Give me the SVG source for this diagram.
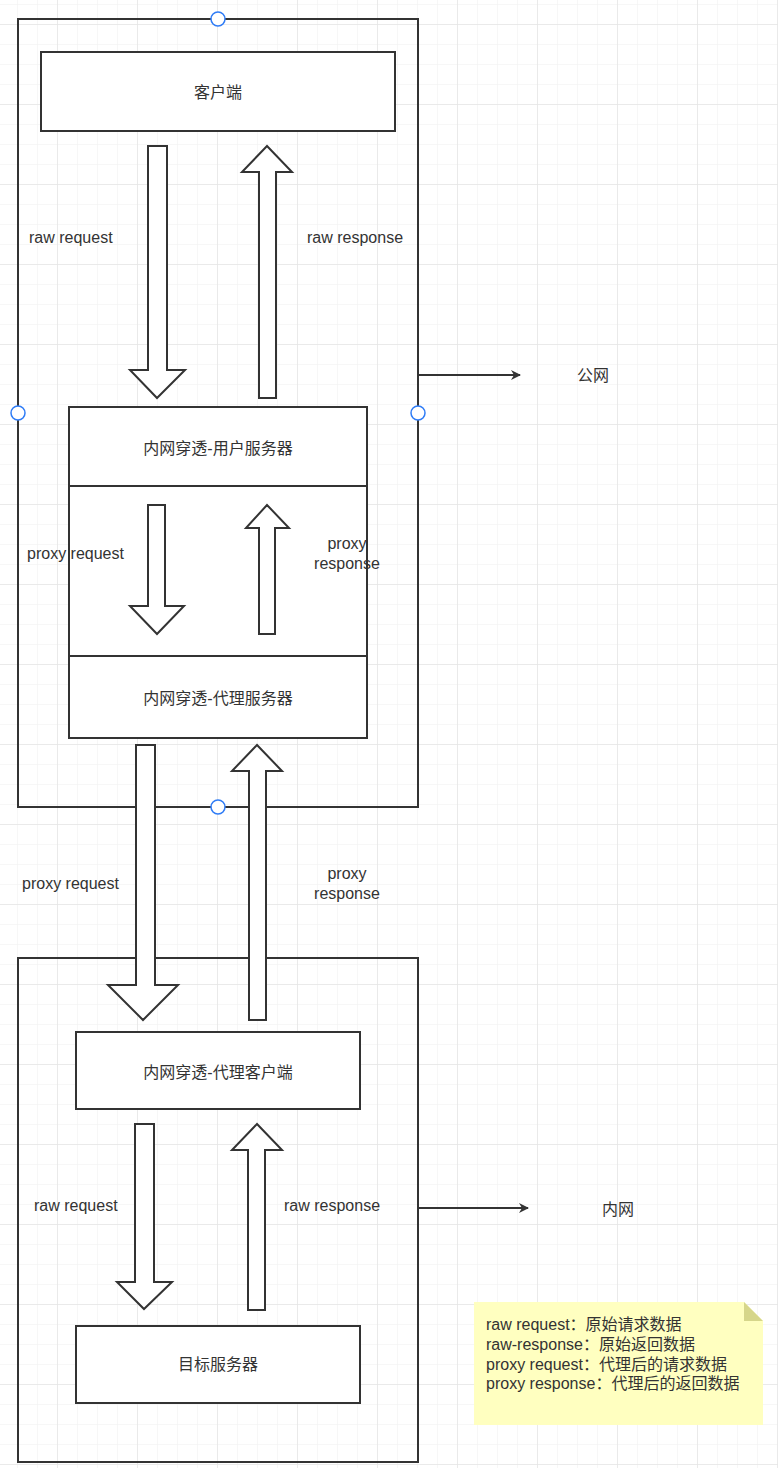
<svg xmlns="http://www.w3.org/2000/svg" width="778" height="1468" viewBox="0 0 778 1468">
<defs>
<pattern id="g" x="17" y="4" width="20" height="20" patternUnits="userSpaceOnUse"><path d="M0 0H20M0 0V20" stroke="#efefef" stroke-width="1" fill="none"/></pattern>
<pattern id="G" x="57" y="24" width="80" height="80" patternUnits="userSpaceOnUse"><path d="M0 0H80M0 0V80" stroke="#e6e6e6" stroke-width="1.5" fill="none"/></pattern>
<marker id="ah" markerWidth="10" markerHeight="10" refX="9" refY="5" orient="auto" markerUnits="userSpaceOnUse"><path d="M0 0L10 5L0 10L3 5Z" fill="#333"/></marker>
</defs>
<style>
.b{fill:#fff;stroke:#333;stroke-width:2}
.o{fill:none;stroke:#333;stroke-width:2}
.a{fill:#fff;stroke:#333;stroke-width:2;stroke-linejoin:miter}
text{font-family:"Liberation Sans","Noto Sans CJK SC",sans-serif;font-size:16px;fill:#333}
.c{text-anchor:middle;dominant-baseline:central}
.l{dominant-baseline:central}
.h{fill:#fff;stroke:#2f7cf6;stroke-width:1.5}
</style>
<rect width="778" height="1468" fill="#fff"/>
<rect width="778" height="1468" fill="url(#g)"/>
<rect width="778" height="1468" fill="url(#G)"/>
<g id="public-zone"><rect class="o" x="18" y="19" width="400" height="788"/></g>
<g id="inner-zone"><rect class="o" x="18" y="958" width="400" height="504"/></g>
<g id="client"><rect class="b" x="41" y="52" width="354" height="79"/><text class="c" x="218" y="92">客户端</text></g>
<g id="proxy-server"><rect class="b" x="69" y="407" width="298" height="331"/><line class="o" x1="69" y1="486" x2="367" y2="486"/><line class="o" x1="69" y1="656" x2="367" y2="656"/><text class="c" x="218" y="448">内网穿透-用户服务器</text><text class="c" x="218" y="698">内网穿透-代理服务器</text></g>
<g id="proxy-client"><rect class="b" x="76" y="1032" width="284" height="77"/><text class="c" x="218" y="1072">内网穿透-代理客户端</text></g>
<g id="target"><rect class="b" x="76" y="1326" width="284" height="77"/><text class="c" x="218" y="1364">目标服务器</text></g>
<g id="connectors">
<path class="a" d="M148 146H167V370H185L157 398L130 370H148Z"/>
<path class="a" d="M259 398H276V172H292L267 146L242 172H259Z"/>
<path class="a" d="M148 505H165V606H184L157 634L130 606H148Z"/>
<path class="a" d="M259 634H275V528H289L267 505L246 528H259Z"/>
<path class="a" d="M136 745H155V985H178L143 1020L108 985H136Z"/>
<path class="a" d="M249 1020H266V771H282L257 745L232 771H249Z"/>
<path class="a" d="M135 1124H154V1282H172L144 1309L117 1282H135Z"/>
<path class="a" d="M248 1310H265V1150H282L257 1124L232 1150H248Z"/>
<line x1="418" y1="375" x2="520" y2="375" stroke="#333" stroke-width="2" marker-end="url(#ah)"/>
<line x1="418" y1="1208" x2="528" y2="1208" stroke="#333" stroke-width="2" marker-end="url(#ah)"/>
</g>
<g id="labels">
<text class="l" x="29" y="237">raw request</text>
<text class="l" x="307" y="237">raw response</text>
<text class="l" x="27" y="553">proxy request</text>
<text class="c" x="347" y="543">proxy</text><text class="c" x="347" y="563">response</text>
<text class="l" x="22" y="883">proxy request</text>
<text class="c" x="347" y="873">proxy</text><text class="c" x="347" y="893">response</text>
<text class="l" x="34" y="1205">raw request</text>
<text class="l" x="284" y="1205">raw response</text>
<text class="c" x="593" y="375">公网</text>
<text class="c" x="618" y="1209">内网</text>
</g>
<g id="handles">
<circle class="h" cx="218" cy="19" r="7"/><circle class="h" cx="18" cy="413" r="7"/><circle class="h" cx="418" cy="413" r="7"/><circle class="h" cx="218" cy="807" r="7"/>
</g>
<g id="note">
<path d="M474 1302H744L763 1321V1425H474Z" fill="#ffffc0"/>
<path d="M744 1302L763 1321H744Z" fill="#d6d68a"/>
<text class="l" x="486" y="1324">raw request：原始请求数据</text>
<text class="l" x="486" y="1344">raw-response：原始返回数据</text>
<text class="l" x="486" y="1364">proxy request：代理后的请求数据</text>
<text class="l" x="486" y="1383">proxy response：代理后的返回数据</text>
</g>
</svg>
